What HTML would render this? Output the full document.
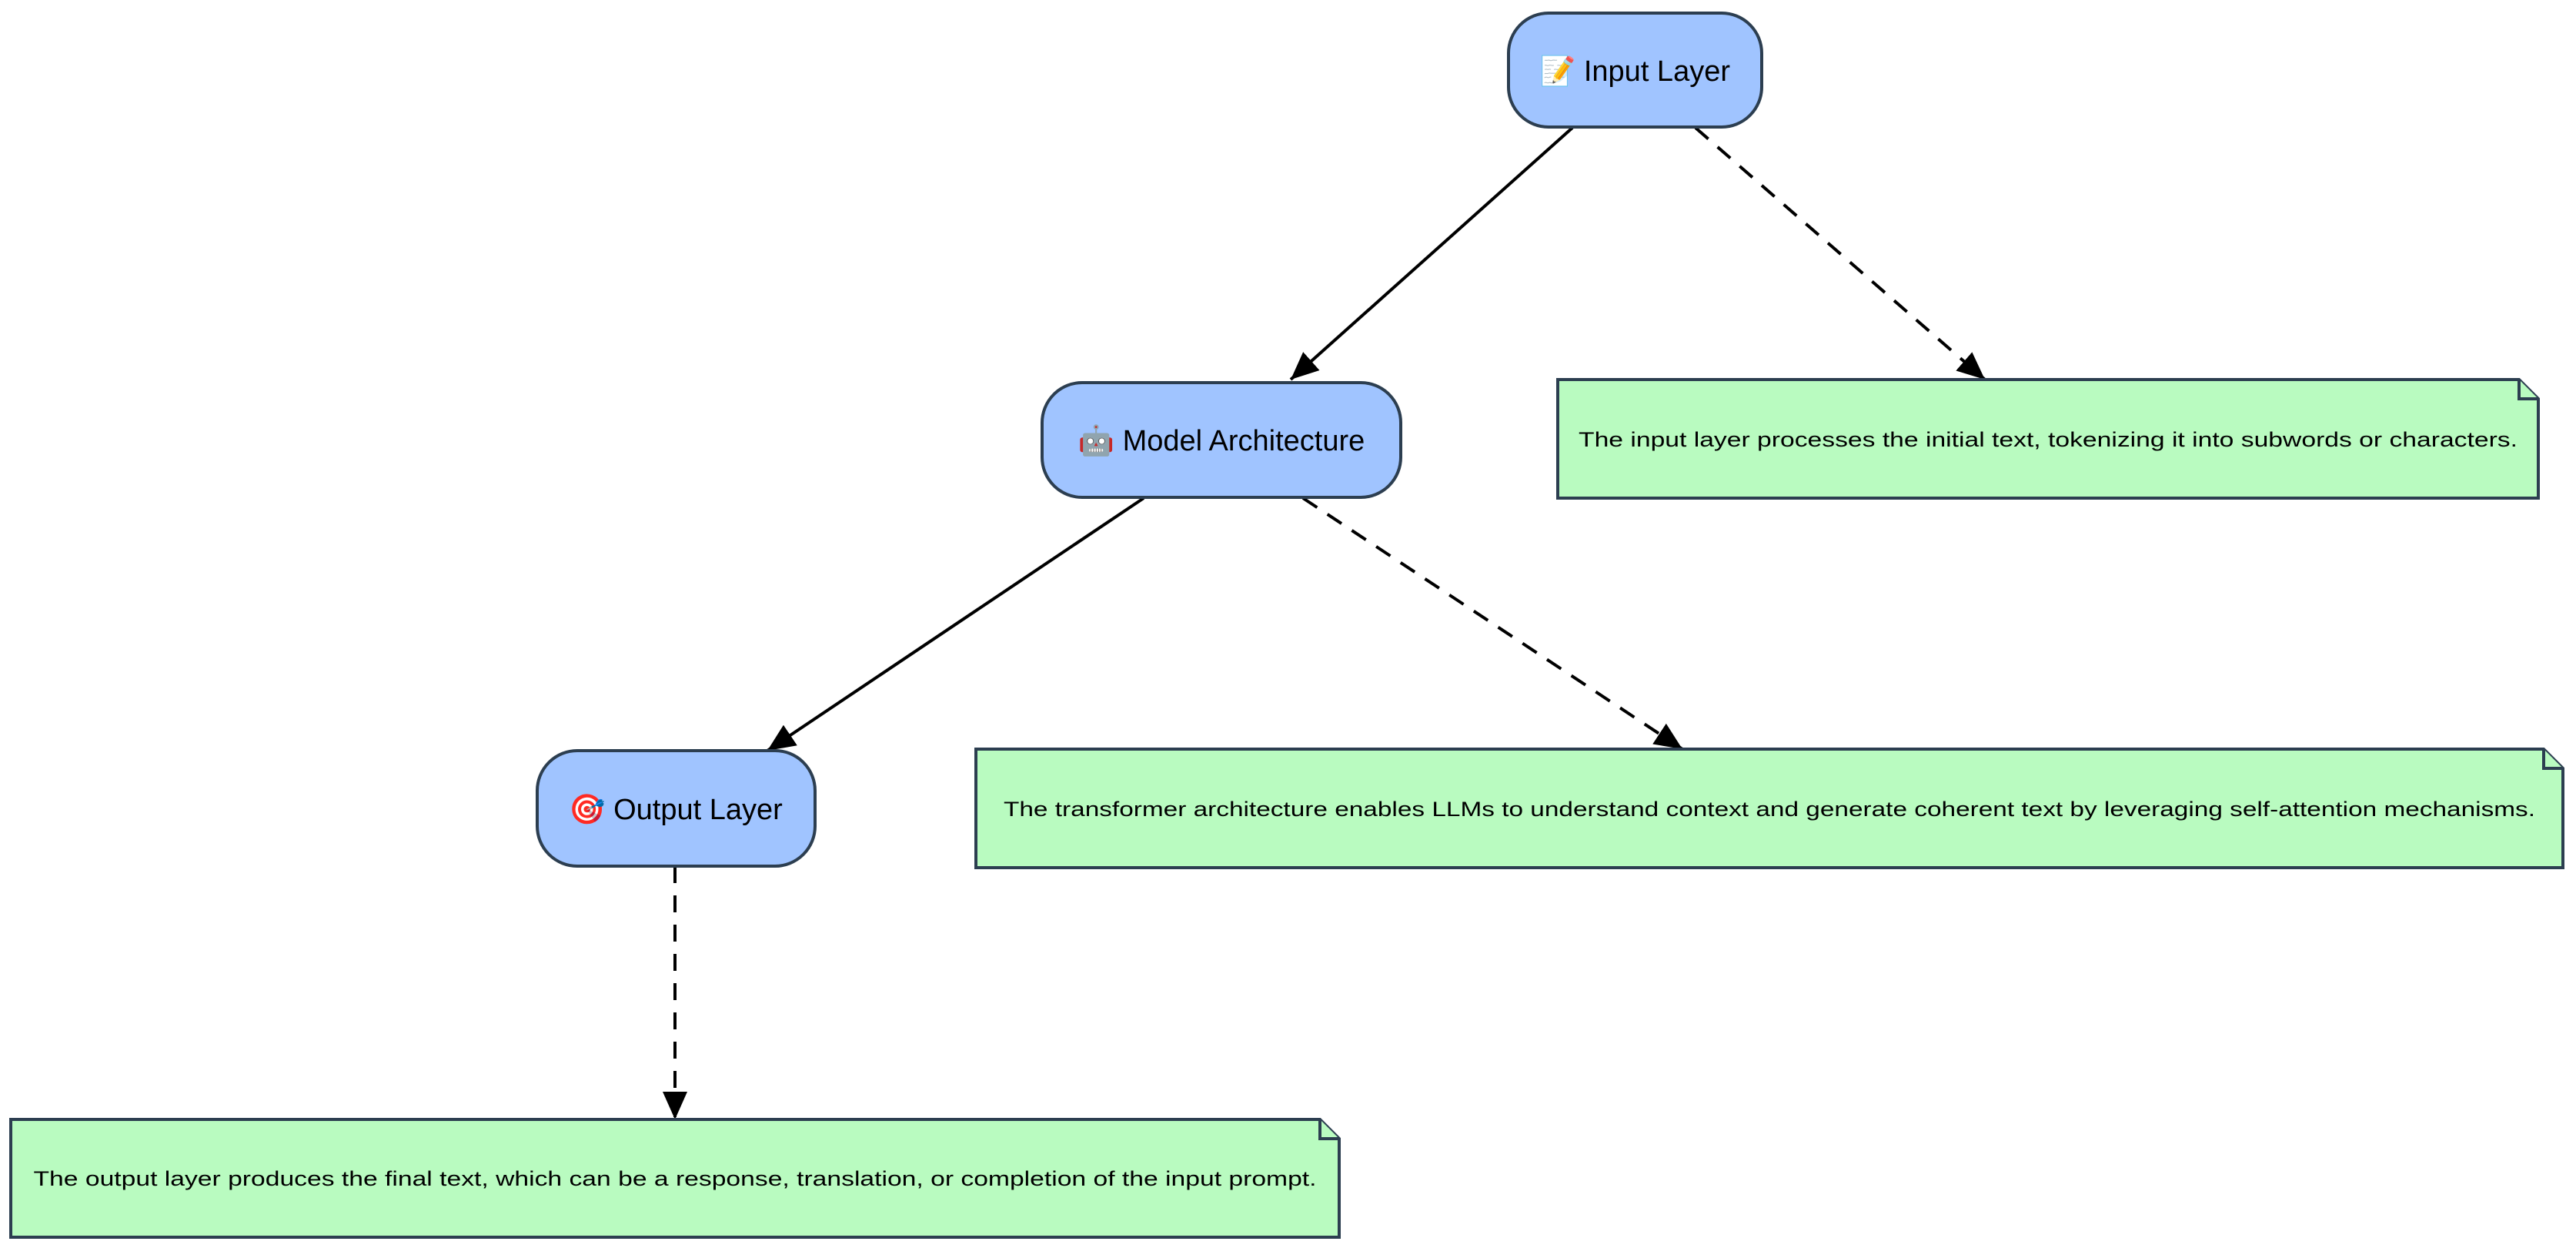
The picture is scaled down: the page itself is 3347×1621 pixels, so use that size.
<!DOCTYPE html>
<html><head><meta charset="utf-8"><style>
html,body{margin:0;padding:0;background:#fff;}
svg{display:block;}
text{font-family:"Liberation Sans",sans-serif;fill:#000;}
</style></head><body>
<svg width="3347" height="1621" viewBox="0 0 3347 1621" xmlns="http://www.w3.org/2000/svg">
<defs>
<marker id="ah" markerUnits="userSpaceOnUse" markerWidth="40" markerHeight="32" refX="36" refY="16" orient="auto">
<path d="M0,0 L36,16 L0,32 Z" fill="#000"/>
</marker>
</defs>
<g stroke="#000" stroke-width="4" fill="none">
<line x1="2043" y1="166" x2="1677" y2="493" marker-end="url(#ah)"/>
<line x1="2203" y1="166" x2="2579" y2="493" stroke-dasharray="22,16" marker-end="url(#ah)"/>
<line x1="1486" y1="647" x2="997" y2="975" marker-end="url(#ah)"/>
<line x1="1693" y1="647" x2="2186" y2="973" stroke-dasharray="22,16" marker-end="url(#ah)"/>
<line x1="877" y1="1125" x2="877" y2="1454" stroke-dasharray="22,16" marker-end="url(#ah)"/>
</g>
<g fill="#a0c4ff" stroke="#2c3e50" stroke-width="4">
<rect x="1960" y="17" width="329" height="148" rx="52" ry="52"/>
<rect x="1354" y="497" width="466" height="149" rx="52" ry="52"/>
<rect x="698" y="975" width="361" height="150" rx="52" ry="52"/>
</g>
<g fill="#b9fbc0" stroke="#2c3e50" stroke-width="4">
<path d="M2024,493 H3273 L3298,518 V647 H2024 Z"/>
<path d="M3273,493 V518 H3298"/>
<path d="M1268,973 H3305 L3330,998 V1127 H1268 Z"/>
<path d="M3305,973 V998 H3330"/>
<path d="M14,1454 H1715 L1740,1479 V1607 H14 Z"/>
<path d="M1715,1454 V1479 H1740"/>
</g>
<g font-size="38" text-anchor="middle">
<text x="2124" y="105">📝 Input Layer</text>
<text x="1587" y="585">🤖 Model Architecture</text>
<text x="878" y="1064">🎯 Output Layer</text>
</g>
<g font-size="27" text-anchor="middle">
<text x="2661" y="580" textLength="1220" lengthAdjust="spacingAndGlyphs">The input layer processes the initial text, tokenizing it into subwords or characters.</text>
<text x="2299" y="1060" textLength="1990" lengthAdjust="spacingAndGlyphs">The transformer architecture enables LLMs to understand context and generate coherent text by leveraging self-attention mechanisms.</text>
<text x="877" y="1540" textLength="1667" lengthAdjust="spacingAndGlyphs">The output layer produces the final text, which can be a response, translation, or completion of the input prompt.</text>
</g>
</svg>
</body></html>
